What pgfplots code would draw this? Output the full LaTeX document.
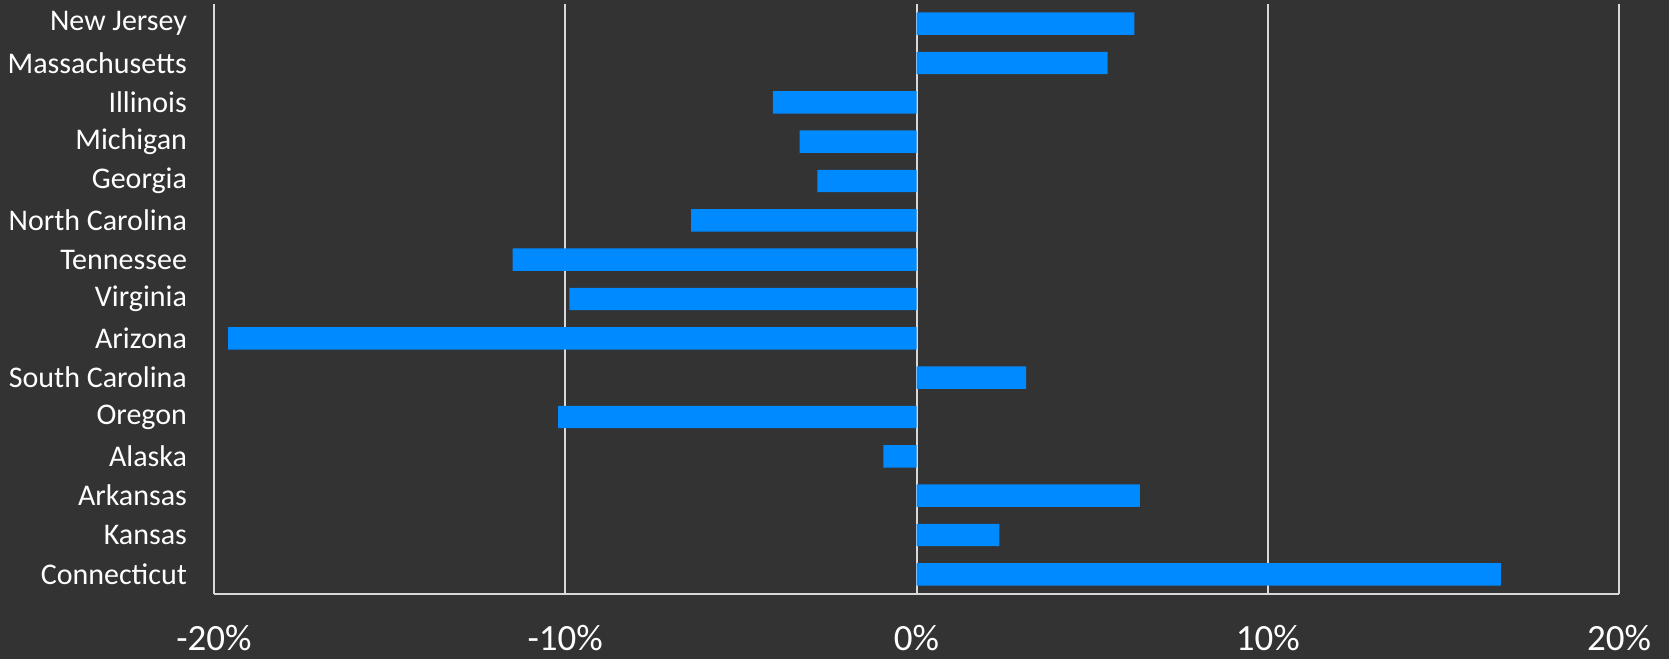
\documentclass[border=0pt]{standalone}
\usepackage{pgfplots}
\pgfplotsset{compat=1.18}
\usepackage{fontspec}
\setmainfont{Carlito}
\definecolor{bg}{RGB}{51,51,51}
\definecolor{barblue}{RGB}{0,138,255}
\definecolor{gridc}{RGB}{217,217,217}
\begin{document}
\begin{tikzpicture}
\fill[bg] (-107pt,-32.5pt) rectangle (727.5pt,297pt);
\useasboundingbox (-107pt,-32.5pt) rectangle (727.5pt,297pt);
\begin{axis}[at={(0,0)}, anchor=south west, scale only axis,
  width=702.5pt, height=295pt,
  xmin=-20, xmax=20, ymin=-0.5, ymax=14.5, y dir=reverse,
  xbar, bar width=11.2pt, bar shift=0pt,
  xtick={-20,-10,0,10,20},
  xticklabels={-20\%,-10\%,0\%,10\%,20\%},
  ytick={0,...,14},
  yticklabels={New Jersey,Massachusetts,Illinois,Michigan,Georgia,North Carolina,Tennessee,Virginia,Arizona,South Carolina,Oregon,Alaska,Arkansas,Kansas,Connecticut},
  major tick length=0pt,
  xmajorgrids, major grid style={gridc, line width=1pt},
  axis x line=bottom, axis y line=left,
  axis line style={-, gridc, line width=1pt},
  tick label style={text=white},
  yticklabel style={font=\fontsize{15}{18}\selectfont},
  xticklabel style={font=\fontsize{18.5}{22}\selectfont},
  xticklabel shift=12.2pt,
  yticklabel shift=10pt,
  /pgf/number format/assume math mode=true,
]
\addplot[fill=barblue, draw=none] coordinates {
(6.2,0) (5.44,1) (-4.09,2) (-3.33,3) (-2.82,4) (-6.42,5) (-11.5,6) (-9.88,7)
(-19.6,8) (3.12,9) (-10.2,10) (-0.94,11) (6.36,12) (2.36,13) (16.64,14)};
\end{axis}
\end{tikzpicture}
\end{document}
